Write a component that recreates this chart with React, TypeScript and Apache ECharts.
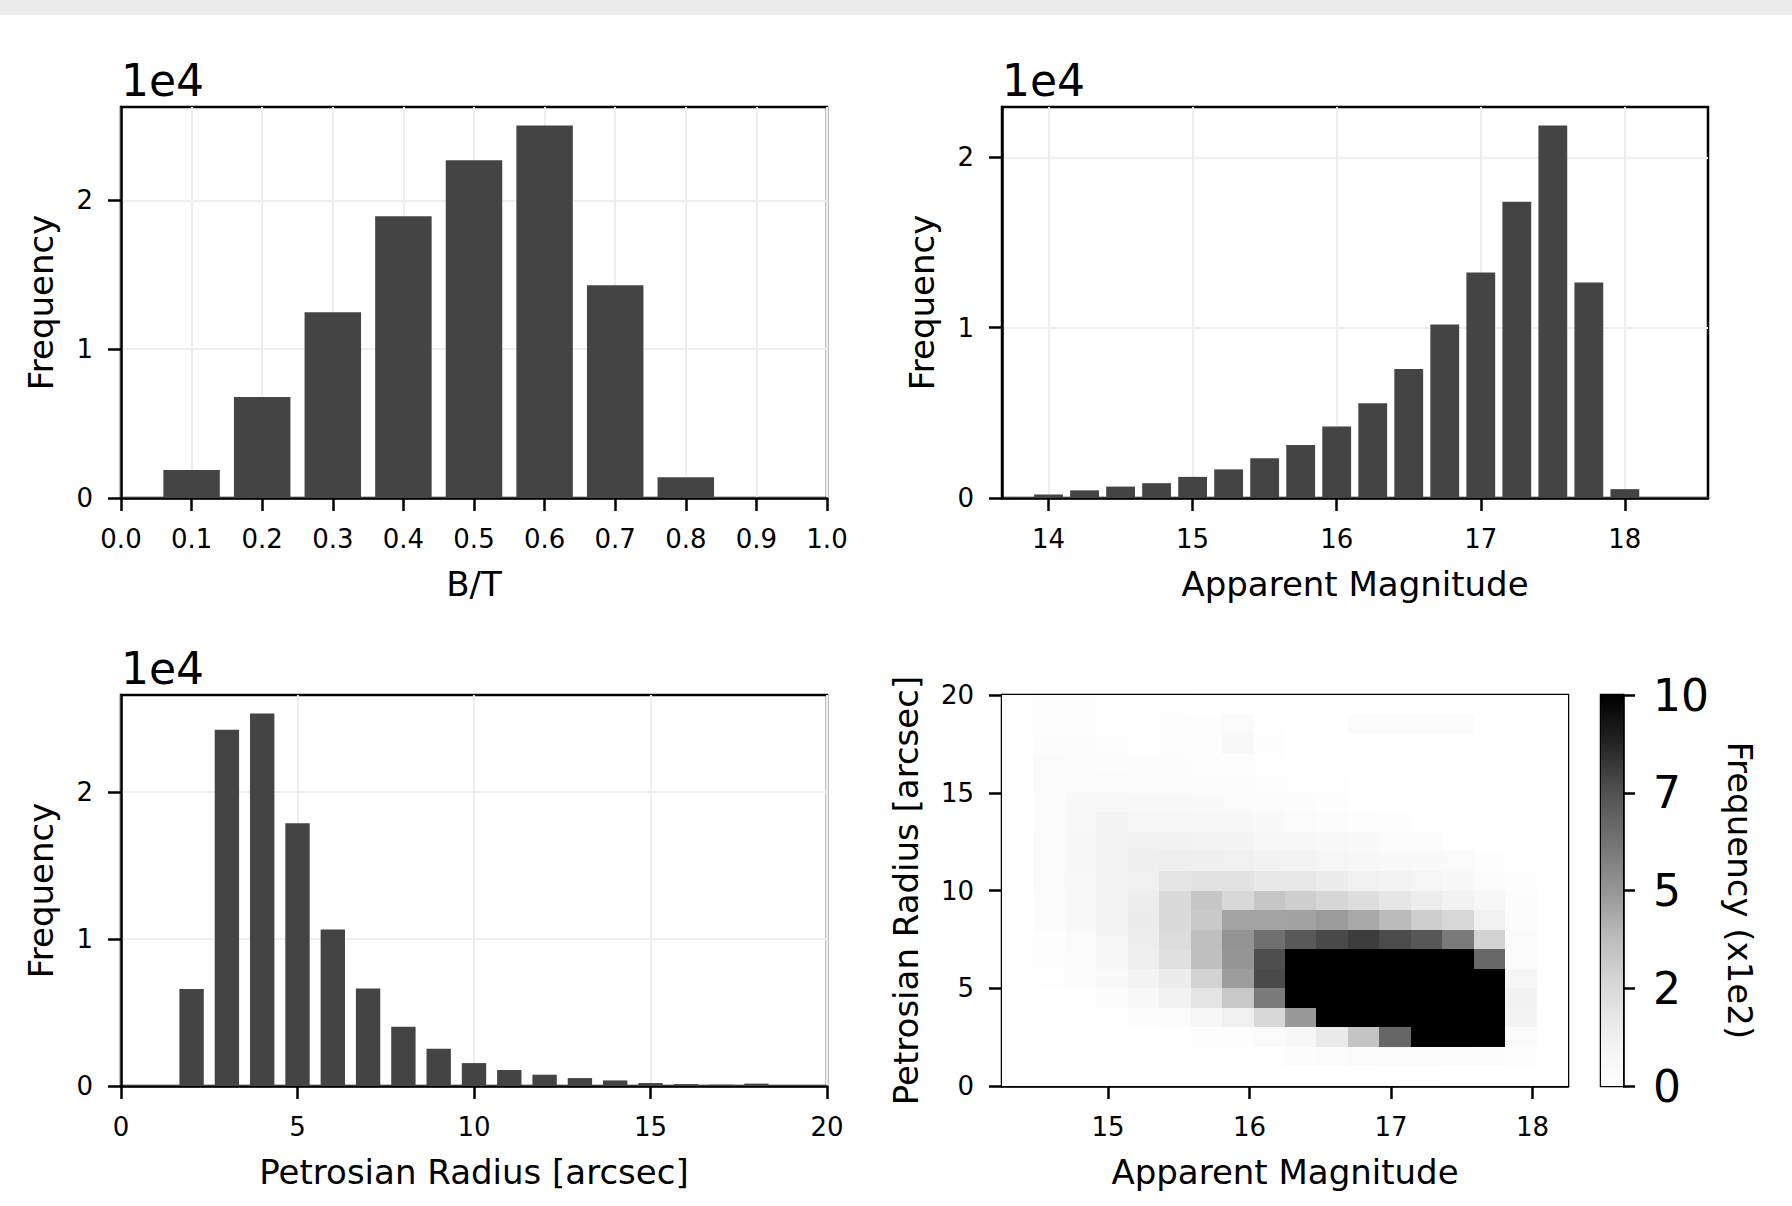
import React, { useEffect, useRef } from 'react';
import * as echarts from 'echarts';

// ---------- data ----------
const btCenters = [0.1, 0.2, 0.3, 0.4, 0.5, 0.6, 0.7, 0.8];
const btCounts = [1880, 6780, 12480, 18930, 22700, 25020, 14300, 1390];
const btBinWidth = 0.1;

const magCenters = [14.0, 14.25, 14.5, 14.75, 15.0, 15.25, 15.5, 15.75, 16.0, 16.25, 16.5, 16.75, 17.0, 17.25, 17.5, 17.75, 18.0];
const magCounts = [205, 450, 670, 870, 1240, 1680, 2330, 3120, 4200, 5570, 7570, 10190, 13240, 17400, 21870, 12660, 520];
const magBinWidth = 0.25;

const radCenters = [2, 3, 4, 5, 6, 7, 8, 9, 10, 11, 12, 13, 14, 15, 16, 17, 18];
const radCounts = [6610, 24260, 25350, 17880, 10660, 6630, 4030, 2530, 1560, 1090, 770, 540, 380, 200, 130, 90, 160];
const radBinWidth = 1;

const freqTicks = [0, 10000, 20000];
const magTicks = [14, 15, 16, 17, 18];
const h2dMagTicks = [15, 16, 17, 18];

// 2D histogram: magnitude bins (18, from 14.25 to 18.25) x radius bins (20, from 0 to 20)
const h2dMagMin = 14.25;
const h2dMagMax = 18.25;
const h2dRadMin = 0;
const h2dRadMax = 20;
// rows: radius bin 0 (bottom) .. 19 (top); columns: magnitude bins left -> right
const h2dCounts = [
  [0, 0, 0, 0, 0, 0, 0, 0, 0, 0, 0, 0, 8, 8, 0, 0, 0, 0],
  [0, 0, 0, 0, 0, 0, 0, 0, 8, 25, 33, 42, 42, 33, 33, 25, 17, 0],
  [0, 0, 0, 0, 0, 8, 17, 17, 42, 66, 160, 344, 674, 1250, 1900, 2300, 42, 0],
  [0, 0, 0, 0, 25, 33, 75, 125, 254, 490, 1150, 1800, 2400, 2900, 3300, 3000, 92, 0],
  [0, 0, 8, 25, 50, 108, 190, 326, 600, 1250, 2200, 2800, 3200, 3400, 3500, 2600, 125, 0],
  [0, 8, 25, 50, 100, 147, 281, 478, 772, 1500, 2100, 2500, 2700, 2750, 2600, 1700, 83, 0],
  [0, 17, 33, 75, 136, 210, 362, 505, 760, 1150, 1450, 1600, 1550, 1420, 1180, 665, 42, 0],
  [0, 17, 42, 83, 141, 234, 366, 511, 636, 725, 775, 812, 770, 730, 600, 277, 42, 0],
  [0, 33, 58, 92, 147, 245, 320, 458, 458, 460, 484, 442, 385, 305, 254, 118, 25, 0],
  [0, 33, 58, 92, 141, 245, 335, 254, 335, 300, 265, 230, 179, 142, 108, 66, 25, 0],
  [0, 42, 58, 92, 125, 190, 201, 201, 168, 170, 147, 125, 100, 85, 66, 35, 17, 0],
  [0, 45, 70, 100, 130, 136, 130, 125, 108, 104, 83, 66, 55, 46, 38, 20, 0, 0],
  [0, 38, 66, 88, 125, 108, 100, 92, 75, 66, 55, 46, 33, 25, 12, 0, 0, 0],
  [0, 35, 60, 92, 83, 83, 75, 67, 50, 33, 25, 20, 17, 0, 0, 0, 0, 0],
  [0, 33, 58, 60, 55, 55, 46, 38, 30, 22, 15, 10, 0, 0, 0, 0, 0, 0],
  [0, 38, 42, 38, 30, 30, 22, 22, 15, 10, 8, 0, 0, 0, 0, 0, 0, 0],
  [0, 38, 35, 28, 22, 22, 15, 20, 10, 0, 0, 0, 0, 0, 0, 0, 0, 0],
  [0, 28, 22, 15, 10, 15, 15, 55, 20, 0, 0, 0, 0, 0, 0, 0, 0, 0],
  [0, 20, 20, 10, 10, 20, 20, 40, 10, 0, 0, 35, 35, 35, 35, 0, 0, 0],
  [0, 14, 14, 6, 6, 6, 0, 0, 0, 0, 0, 0, 0, 0, 0, 0, 0, 0],
];

const cbarRange = [0, 1000];
const cbarTicks = [0, 250, 500, 750, 1000];
const greys = ['#ffffff', '#f0f0f0', '#d9d9d9', '#bdbdbd', '#969696', '#737373', '#525252', '#252525', '#000000'];

// ---------- styles ----------
const FONT = 'DejaVu Sans';
const BAR_COLOR = '#444444';
const G = [
  { left: 121, top: 107, width: 706, height: 391 },
  { left: 1002, top: 107, width: 706, height: 391 },
  { left: 121, top: 695, width: 706, height: 391 },
  { left: 1002, top: 695, width: 566, height: 391 },
  { left: 1601, top: 695, width: 22, height: 391 },
];

const axisLine = { show: true, onZero: false, lineStyle: { color: '#000', width: 2.5 } };
const tickStyle = { color: '#000', width: 2.5 };
const labelBase = { color: '#000', fontFamily: FONT, fontSize: 26, margin: 28 };
const nameStyle = { color: '#000', fontFamily: FONT, fontSize: 34 };
const gridLine = { show: true, lineStyle: { color: '#eeeeee', width: 2 } };

function histSeries(centers: number[], counts: number[], binWidth: number, rwidth: number, idx: number) {
  return {
    type: 'custom',
    coordinateSystem: 'cartesian2d',
    xAxisIndex: idx,
    yAxisIndex: idx,
    clip: true,
    encode: { x: 0, y: 1 },
    data: centers.map((c, i) => [c, counts[i]]),
    renderItem: (params: any, api: any) => {
      const x = api.value(0);
      const v = api.value(1);
      const half = (binWidth * rwidth) / 2;
      const p0 = api.coord([x - half, v]);
      const p1 = api.coord([x + half, 0]);
      return {
        type: 'rect',
        shape: { x: p0[0], y: p0[1], width: p1[0] - p0[0], height: p1[1] - p0[1] },
        style: { fill: BAR_COLOR },
      };
    },
  };
}

function freqAxis(idx: number, counts: number[]) {
  return {
    type: 'value',
    gridIndex: idx,
    min: 0,
    max: Math.max(...counts) * 1.05,
    interval: 10000,
    name: 'Frequency',
    nameLocation: 'middle',
    nameGap: 63,
    nameTextStyle: nameStyle,
    axisLine,
    axisTick: { show: true, length: 13, lineStyle: tickStyle, customValues: freqTicks },
    axisLabel: { ...labelBase, customValues: freqTicks, formatter: (v: number) => String(Math.round(v / 10000)) },
    splitLine: gridLine,
  };
}

const magStep = (h2dMagMax - h2dMagMin) / h2dCounts[0].length;
const radStep = (h2dRadMax - h2dRadMin) / h2dCounts.length;
const h2dData: number[][] = [];
h2dCounts.forEach((row, r) => {
  row.forEach((v, c) => {
    h2dData.push([h2dMagMin + c * magStep, h2dRadMin + r * radStep, v]);
  });
});

const option: any = {
  animation: false,
  backgroundColor: '#ffffff',
  textStyle: { fontFamily: FONT },
  title: [0, 1, 2].map((i) => ({
    text: '1e4',
    left: G[i].left - 5,
    top: G[i].top - 54,
    textStyle: { fontFamily: FONT, fontSize: 44, fontWeight: 'normal', color: '#000' },
  })),
  grid: G.map((g) => ({ ...g, show: true, borderColor: '#000', borderWidth: 2.5, containLabel: false })),
  visualMap: {
    type: 'continuous',
    show: false,
    min: cbarRange[0],
    max: cbarRange[1],
    dimension: 2,
    seriesIndex: 3,
    inRange: { color: greys },
  },
  xAxis: [
    {
      type: 'value', gridIndex: 0, min: 0, max: 1, interval: 0.1,
      name: 'B/T', nameLocation: 'middle', nameGap: 69, nameTextStyle: nameStyle,
      axisLine, axisTick: { show: true, length: 13, lineStyle: tickStyle },
      axisLabel: { ...labelBase, formatter: (v: number) => v.toFixed(1) },
      splitLine: gridLine,
    },
    {
      type: 'value', gridIndex: 1, min: 13.677, max: 18.577,
      name: 'Apparent Magnitude', nameLocation: 'middle', nameGap: 69, nameTextStyle: nameStyle,
      axisLine, axisTick: { show: true, length: 13, lineStyle: tickStyle, customValues: magTicks },
      axisLabel: { ...labelBase, customValues: magTicks, formatter: (v: number) => String(v) },
      splitLine: gridLine,
    },
    {
      type: 'value', gridIndex: 2, min: 0, max: 20, interval: 5,
      name: 'Petrosian Radius [arcsec]', nameLocation: 'middle', nameGap: 69, nameTextStyle: nameStyle,
      axisLine, axisTick: { show: true, length: 13, lineStyle: tickStyle },
      axisLabel: { ...labelBase },
      splitLine: gridLine,
    },
    {
      type: 'value', gridIndex: 3, min: h2dMagMin, max: h2dMagMax,
      name: 'Apparent Magnitude', nameLocation: 'middle', nameGap: 69, nameTextStyle: nameStyle,
      axisLine, axisTick: { show: true, length: 13, lineStyle: tickStyle, customValues: h2dMagTicks },
      axisLabel: { ...labelBase, customValues: h2dMagTicks, formatter: (v: number) => String(v) },
      splitLine: { show: false },
    },
    {
      type: 'value', gridIndex: 4, min: 0, max: 1, show: false,
    },
  ],
  yAxis: [
    freqAxis(0, btCounts),
    freqAxis(1, magCounts),
    freqAxis(2, radCounts),
    {
      type: 'value', gridIndex: 3, min: h2dRadMin, max: h2dRadMax, interval: 5,
      name: 'Petrosian Radius [arcsec]', nameLocation: 'middle', nameGap: 79, nameTextStyle: nameStyle,
      axisLine, axisTick: { show: true, length: 13, lineStyle: tickStyle },
      axisLabel: { ...labelBase },
      splitLine: { show: false },
    },
    {
      type: 'value', gridIndex: 4, min: cbarRange[0], max: cbarRange[1], interval: 250, position: 'right',
      name: 'Frequency (x1e2)', nameLocation: 'middle', nameRotate: -90, nameGap: 100, nameTextStyle: nameStyle,
      axisLine, axisTick: { show: true, length: 12, lineStyle: tickStyle, customValues: cbarTicks },
      axisLabel: { ...labelBase, fontSize: 44, margin: 30, customValues: cbarTicks, formatter: (v: number) => String(Math.floor(v / 100)) },
      splitLine: { show: false },
    },
  ],
  series: [
    histSeries(btCenters, btCounts, btBinWidth, 0.8, 0),
    histSeries(magCenters, magCounts, magBinWidth, 0.8, 1),
    histSeries(radCenters, radCounts, radBinWidth, 0.69, 2),
    {
      type: 'custom',
      coordinateSystem: 'cartesian2d',
      xAxisIndex: 3,
      yAxisIndex: 3,
      clip: true,
      encode: { x: 0, y: 1 },
      data: h2dData,
      renderItem: (params: any, api: any) => {
        const x0 = api.value(0);
        const y0 = api.value(1);
        const p0 = api.coord([x0, y0 + radStep]);
        const p1 = api.coord([x0 + magStep, y0]);
        const left = Math.round(p0[0]);
        const top = Math.round(p0[1]);
        const right = Math.round(p1[0]);
        const bottom = Math.round(p1[1]);
        return {
          type: 'rect',
          shape: { x: left, y: top, width: right - left, height: bottom - top },
          style: { fill: api.visual('color') },
        };
      },
    },
    {
      type: 'custom',
      coordinateSystem: 'cartesian2d',
      xAxisIndex: 4,
      yAxisIndex: 4,
      encode: { y: [0, 1] },
      data: [[cbarRange[0], cbarRange[1]]],
      renderItem: (params: any, api: any) => {
        const p0 = api.coord([0, api.value(1)]);
        const p1 = api.coord([1, api.value(0)]);
        return {
          type: 'rect',
          shape: { x: p0[0], y: p0[1], width: p1[0] - p0[0], height: p1[1] - p0[1] },
          style: {
            fill: {
              type: 'linear', x: 0, y: 1, x2: 0, y2: 0,
              colorStops: greys.map((c, i) => ({ offset: i / (greys.length - 1), color: c })),
            },
          },
        };
      },
    },
  ],
};

export default function App() {
  const ref = useRef<HTMLDivElement>(null);
  useEffect(() => {
    const chart = echarts.init(ref.current as HTMLDivElement, null, { renderer: 'svg' });
    chart.setOption(option);
    return () => chart.dispose();
  }, []);
  return (
    <div style={{ position: 'fixed', left: 0, top: 0, width: 1792, height: 1206, background: '#ffffff' }}>
      <div ref={ref} style={{ position: 'absolute', left: 0, top: 0, width: 1792, height: 1206 }} />
      <div style={{ position: 'absolute', left: 0, top: 0, width: 1792, height: 15, background: '#ebebeb' }} />
    </div>
  );
}
